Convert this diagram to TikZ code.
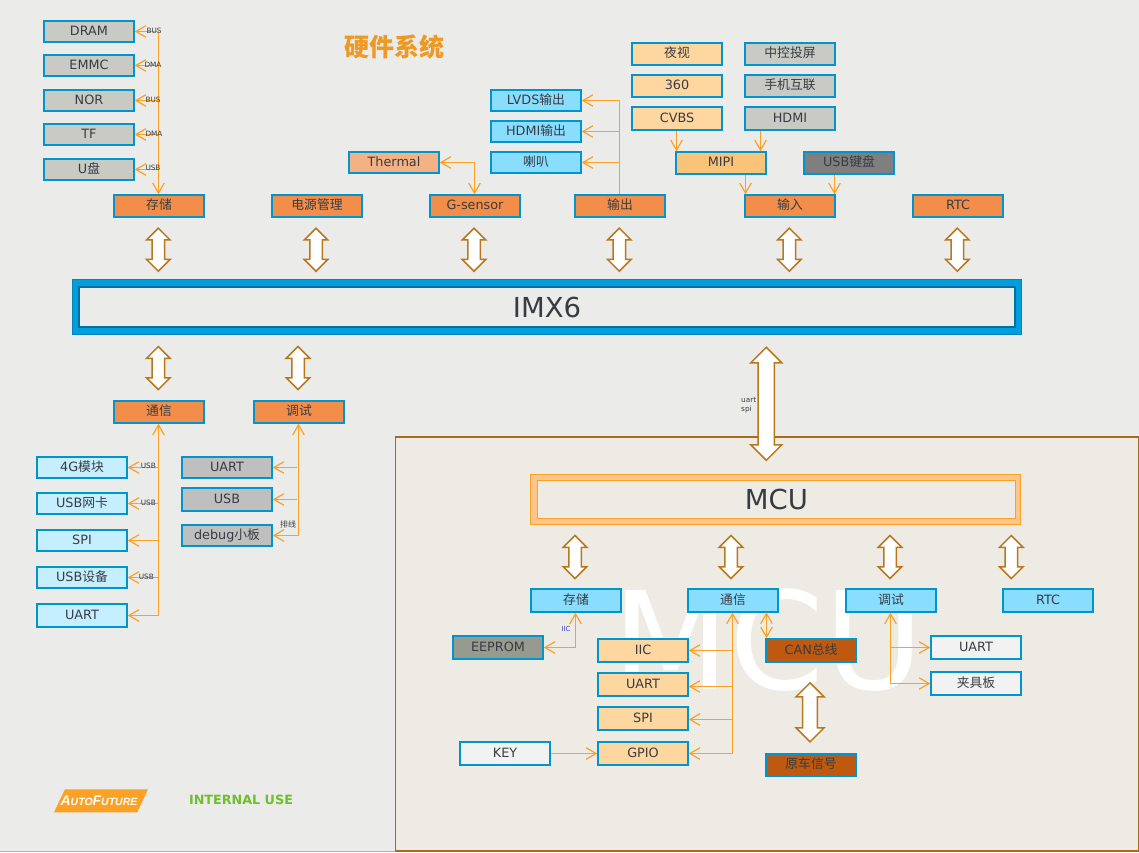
\documentclass[tikz,border=0pt]{standalone}
\usepackage{fontspec}
\setmainfont{DejaVu Sans}
\newfontfamily\cjk{Noto Sans CJK SC}
\newfontfamily\logofont{Liberation Sans}
\usetikzlibrary{arrows.meta,shapes.arrows}
\newcommand{\zh}[1]{{\cjk #1}}
\definecolor{bg}{HTML}{EBEBE9}
\definecolor{panel}{HTML}{EEEBE5}
\definecolor{edge}{HTML}{0095CC}
\definecolor{wire}{HTML}{FAA126}
\definecolor{brownline}{HTML}{B8781E}
\definecolor{ink}{HTML}{383C42}
\definecolor{cgrey}{HTML}{C9CAC4}
\definecolor{corange}{HTML}{F28E4A}
\definecolor{cpeach}{HTML}{F4B183}
\definecolor{cblue}{HTML}{89DDFF}
\definecolor{ccream}{HTML}{FDD6A0}
\definecolor{cmipi}{HTML}{F9C478}
\definecolor{cdark}{HTML}{7F7F7F}
\definecolor{csilver}{HTML}{BFBFBF}
\definecolor{cpale}{HTML}{C5EEFF}
\definecolor{ceeprom}{HTML}{969A8F}
\definecolor{cbrown}{HTML}{BF590F}
\definecolor{cwhite}{HTML}{F2F2F2}
\definecolor{imxband}{HTML}{009EDD}
\definecolor{imxline}{HTML}{00709F}
\definecolor{igreen}{HTML}{6FBE2E}
\tikzset{
  bx/.style={draw=edge,line width=2.1pt,minimum width=89.3pt,minimum height=21.3pt,inner sep=0pt,text=ink,
    font=\fontsize{12.8}{14}\selectfont,text height=8.6pt,text depth=1.1pt},
  tall/.style={minimum height=22.3pt},
  conn/.style={draw=wire,line width=1.2pt},
  tipend/.style={conn,-{Straight Barb[length=10pt,width=11.5pt]}},
  tipboth/.style={conn,{Straight Barb[length=10pt,width=11.5pt]}-{Straight Barb[length=10pt,width=11.5pt]}},
  tiny/.style={inner sep=0pt,text=ink,font=\fontsize{7.3}{9}\selectfont},
  dbl/.style={shape=double arrow,draw=brownline,fill=white,line width=1.5pt,rotate=90,inner sep=#1pt,
    double arrow head extend=#1pt},
  dbl/.default=5.5
}
\begin{document}
\begin{tikzpicture}[x=1pt,y=-1pt]
\useasboundingbox (0,0) rectangle (1139,852);
\fill[bg] (0,0) rectangle (1139,852);
\draw[color=black!30,line width=1pt] (0,851.5) -- (1139,851.5);
% MCU panel
\node[draw=brownline!90!black,fill=panel,line width=1.6pt,minimum width=743pt,minimum height=414pt,inner sep=0pt,anchor=north west] (panel) at (394.5,436) {};
\node[text=white,inner sep=0pt,font=\fontsize{136}{140}\selectfont] (mark) at (768,640) {MCU};
% title
\node[text=wire!95!black,inner sep=0pt,font=\fontsize{25}{28}\selectfont\bfseries\cjk] (title) at (394,47) {硬件系统};
% left top column
\node[bx,fill=cgrey] (dram) at (89,31.5) {DRAM};
\node[bx,fill=cgrey] (emmc) at (89,65.5) {EMMC};
\node[bx,fill=cgrey] (nor) at (89,100.5) {NOR};
\node[bx,fill=cgrey] (tf) at (89,134.5) {TF};
\node[bx,fill=cgrey] (upan) at (89,169.5) {U\zh{盘}};
% row above IMX6
\node[bx,fill=corange] (store) at (159,206) {\zh{存储}};
\node[bx,fill=corange] (power) at (317,206) {\zh{电源管理}};
\node[bx,fill=corange] (gsens) at (475,206) {G-sensor};
\node[bx,fill=corange] (out) at (620,206) {\zh{输出}};
\node[bx,fill=corange] (in) at (790,206) {\zh{输入}};
\node[bx,fill=corange] (rtc) at (958,206) {RTC};
\node[bx,fill=cpeach] (therm) at (394,162.5) {Thermal};
\node[bx,fill=cblue] (lvds) at (536,100.5) {LVDS\zh{输出}};
\node[bx,fill=cblue] (hdmiout) at (536,131.5) {HDMI\zh{输出}};
\node[bx,fill=cblue] (horn) at (536,162.5) {\zh{喇叭}};
\node[bx,fill=ccream] (night) at (677,54) {\zh{夜视}};
\node[bx,fill=ccream] (cam) at (677,86) {360};
\node[bx,fill=ccream,tall] (cvbs) at (677,118.5) {CVBS};
\node[bx,fill=cgrey] (cast) at (790,54) {\zh{中控投屏}};
\node[bx,fill=cgrey] (phone) at (790,86) {\zh{手机互联}};
\node[bx,fill=cgrey,tall] (hdmi) at (790,118.5) {HDMI};
\node[bx,fill=cmipi] (mipi) at (721,163) {MIPI};
\node[bx,fill=cdark] (kbd) at (849,163) {USB\zh{键盘}};
% IMX6
\node[draw=imxband!85!black,fill=imxband,line width=1pt,minimum width=949pt,minimum height=55pt,inner sep=0pt] (imxo) at (546.5,307.3) {};
\node[draw=imxline,fill=bg,line width=2pt,minimum width=936pt,minimum height=40pt,inner sep=0pt,text=ink,font=\fontsize{27.5}{30}\selectfont] (imx) at (547,307) {IMX6};
% below IMX6
\node[bx,fill=corange] (comm) at (159,412) {\zh{通信}};
\node[bx,fill=corange] (debug) at (299,412) {\zh{调试}};
\node[bx,fill=cpale] (lte) at (82,467.5) {4G\zh{模块}};
\node[bx,fill=cpale] (nic) at (82,503.5) {USB\zh{网卡}};
\node[bx,fill=cpale] (lspi) at (82,540.5) {SPI};
\node[bx,fill=cpale] (dev) at (82,577.5) {USB\zh{设备}};
\node[bx,fill=cpale,tall] (luart) at (82,615.5) {UART};
\node[bx,fill=csilver] (guart) at (227,467.5) {UART};
\node[bx,fill=csilver,tall] (gusb) at (227,499.5) {USB};
\node[bx,fill=csilver] (gdbg) at (227,535.5) {debug\zh{小板}};
% MCU
\node[draw=wire,fill=orange!45!white,line width=1pt,minimum width=490pt,minimum height=49.5pt,inner sep=0pt] (mcuo) at (775.7,499.3) {};
\node[draw=wire,fill=panel,line width=.8pt,minimum width=478.5pt,minimum height=38pt,inner sep=0pt,text=ink,font=\fontsize{27.5}{30}\selectfont] (mcu) at (776.5,499.5) {MCU};
\node[bx,fill=cblue,tall] (mstore) at (576,600.4) {\zh{存储}};
\node[bx,fill=cblue,tall] (mcomm) at (733,600.4) {\zh{通信}};
\node[bx,fill=cblue,tall] (mdebug) at (891,600.4) {\zh{调试}};
\node[bx,fill=cblue,tall] (mrtc) at (1048,600.4) {RTC};
\node[bx,fill=ceeprom,tall] (eeprom) at (498,647.5) {EEPROM};
\node[bx,fill=ccream,tall] (iic) at (643,650.5) {IIC};
\node[bx,fill=ccream,tall] (muart) at (643,684.5) {UART};
\node[bx,fill=ccream,tall] (mspi) at (643,718.5) {SPI};
\node[bx,fill=ccream,tall] (gpio) at (643,753.5) {GPIO};
\node[bx,fill=cwhite,tall] (key) at (505,753.5) {KEY};
\node[bx,fill=cbrown,tall] (can) at (811,650.5) {CAN\zh{总线}};
\node[bx,fill=cbrown] (orig) at (811,765) {\zh{原车信号}};
\node[bx,fill=cwhite,tall] (wuart) at (976,647.5) {UART};
\node[bx,fill=cwhite,tall] (jig) at (976,683.5) {\zh{夹具板}};
% double arrows
\foreach \n/\cx in {a1/158.3,a2/316,a3/474,a4/619.3,a5/789.3,a6/957.3}
  \node[dbl,minimum height=43pt,minimum width=20pt] (\n) at (\cx,249.7) {};
\foreach \n/\cx in {b1/158.3,b2/298}
  \node[dbl,minimum height=43pt,minimum width=20pt] (\n) at (\cx,368) {};
\foreach \n/\cx in {c1/575,c2/731,c3/890,c4/1011.3}
  \node[dbl,minimum height=43pt,minimum width=20pt] (\n) at (\cx,557) {};
\node[dbl=7.4,minimum height=113pt,minimum width=30pt] (big) at (766.3,403.8) {};
\node[dbl=6.6,minimum height=59pt,minimum width=26pt] (canarrow) at (810,712.3) {};
% bus anchors on the pixel grid
\coordinate (sbus) at ([xshift=-.5pt]store.north);
\coordinate (obus) at ([xshift=-.5pt]out.north);
\coordinate (gbus) at ([xshift=-.5pt]gsens.north);
\coordinate (cbus) at ([xshift=-.5pt]comm.south);
\coordinate (dbus) at ([xshift=-.5pt]debug.south);
\coordinate (msbus) at ([xshift=-.5pt]mstore.south);
\coordinate (mcbus) at ([xshift=-.5pt]mcomm.south);
\coordinate (mdbus) at ([xshift=-.5pt]mdebug.south);
% storage bus
\draw[tipboth] (dram.east) -| (sbus);
\foreach \t in {emmc,nor,tf,upan} \draw[tipend] (sbus |- \t.east) -- (\t.east);
\node[tiny] (l1) at (154,31) {BUS};
\node[tiny] (l2) at (153,65) {DMA};
\node[tiny] (l3) at (153,100) {BUS};
\node[tiny] (l4) at (154,134) {DMA};
\node[tiny] (l5) at (153,168) {USB};
% sensor, outputs
\draw[tipboth] (therm.east) -| (gbus);
\draw[tipend] (obus) |- (lvds.east);
\foreach \t in {hdmiout,horn} \draw[tipend] (obus |- \t.east) -- (\t.east);
% inputs
\coordinate (cvbsdown) at (676.5,130.5);
\coordinate (hdmidown) at (760.5,130.5);
\coordinate (mipidown) at (745.5,174.6);
\coordinate (kbddown) at (834.5,174.6);
\draw[tipend] (cvbsdown) -- (cvbsdown |- mipi.north);
\draw[tipend] (hdmidown) -- (hdmidown |- mipi.north);
\draw[tipend] (mipidown) -- (mipidown |- in.north);
\draw[tipend] (kbddown) -- (kbddown |- in.north);
% left lower
\draw[tipboth] (luart.east) -| (cbus);
\foreach \t in {lte,nic,lspi,dev} \draw[tipend] (cbus |- \t.east) -- (\t.east);
\node[tiny] (l6) at (148.3,466) {USB};
\node[tiny] (l7) at (148.3,503) {USB};
\node[tiny] (l8) at (146.3,577) {USB};
\draw[tipboth] (gdbg.east) -| (dbus);
\foreach \t in {guart,gusb} \draw[tipend] ([xshift=-2pt]dbus |- \t.east) -- (\t.east);
\node[tiny,font=\fontsize{8}{9}\cjk] (l9) at (288,524) {排线};
% big arrow label
\node[tiny,align=left,anchor=north west,font=\fontsize{7.3}{9}\selectfont] (l10) at (741,397.5) {uart\\spi};
% MCU connections
\draw[tipboth] (eeprom.east) -| (msbus);
\node[tiny,text=blue!50!gray,font=\fontsize{7}{9}\selectfont] (l11) at (566,629) {IIC};
\draw[tipboth] (gpio.east) -| (mcbus);
\draw[tipend] (mcbus |- iic.east) -- (iic.east);
\draw[tipend] ([yshift=-2pt]mcbus |- muart.east) -- ([yshift=-2pt]muart.east);
\draw[tipend] ([yshift=-1pt]mcbus |- mspi.east) -- ([yshift=-1pt]mspi.east);
\coordinate (cancomm) at (766.5,612.4);
\draw[tipboth] (cancomm) -- (cancomm |- can.north);
\draw[tipend] (key.east) -- (gpio.west);
\draw[tipboth] (mdbus) |- (jig.west);
\draw[tipend] (mdbus |- wuart.west) -- (wuart.west);
% logo
\fill[wire] (65,789.3) -- (148,789.3) -- (137.3,812.3) -- (54,812.3) -- cycle;
\node[text=white,inner sep=0pt,font=\logofont\bfseries\itshape] (logo) at (99,801) {\fontsize{14}{14}\selectfont A\fontsize{10.5}{14}\selectfont UTO\fontsize{14}{14}\selectfont F\fontsize{10.5}{14}\selectfont UTURE};
\node[text=igreen,inner sep=0pt,font=\fontsize{12.75}{14}\selectfont\bfseries] (iu) at (241,800) {INTERNAL USE};
\end{tikzpicture}
\end{document}
